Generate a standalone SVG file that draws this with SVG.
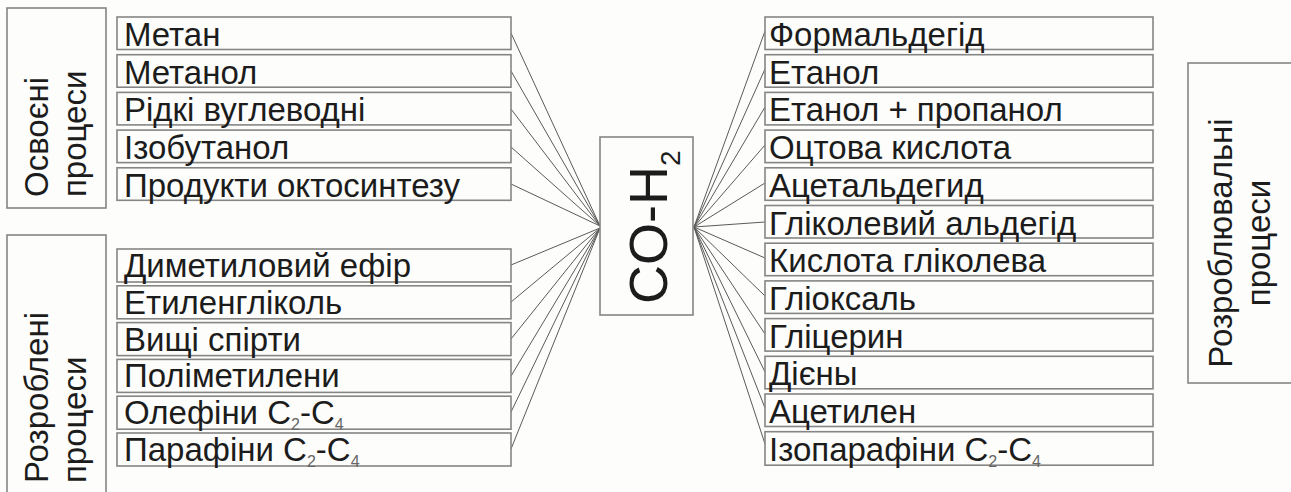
<svg xmlns="http://www.w3.org/2000/svg" width="1291" height="492" viewBox="0 0 1291 492">
<style>
.bx{fill:#fdfdfb;stroke:#858585;stroke-width:1.6}
.t{font-family:"Liberation Sans",Arial,sans-serif;font-size:33px;fill:#1c1c1c}
.sub{font-size:16px;fill:#666}
.ln{stroke:#5a5a5a;stroke-width:1;fill:none}
</style>
<rect width="1291" height="492" fill="#fdfdfb"/>
<g id="connectors">
<path class="ln" d="M511,33 L600,226 M511,71 L600,226 M511,109 L600,226 M511,147 L600,226 M511,184 L600,226"/>
<path class="ln" d="M511,265 L600,228 M511,302 L600,228 M511,339 L600,228 M511,376 L600,228 M511,412 L600,228 M511,449 L600,228"/>
<path class="ln" d="M694,227 L765,31 M694,227 L765,69 M694,227 L765,107 M694,227 L765,145 M694,227 L765,183 M694,227 L765,222 M694,227 L765,258 M694,227 L765,296 M694,227 L765,334 M694,227 L765,372 M694,227 L765,408 M694,227 L765,444"/>
</g>
<g id="label-osvoeni">
<rect class="bx" x="7" y="8" width="99" height="200"/>
<text class="t" transform="translate(48,197) rotate(-90)"><tspan x="0" y="0">Освоєні</tspan><tspan x="0" y="38">процеси</tspan></text>
</g>
<g id="label-rozrobleni">
<rect class="bx" x="7" y="235" width="99" height="270"/>
<text class="t" transform="translate(48,483) rotate(-90)"><tspan x="0" y="0">Розроблені</tspan><tspan x="0" y="38">процеси</tspan></text>
</g>
<g id="label-rozroblyuvalni">
<rect class="bx" x="1188" y="63" width="110" height="320"/>
<text class="t" text-anchor="middle" transform="translate(1232,243) rotate(-90)"><tspan x="0" y="0">Розроблювальні</tspan><tspan x="0" y="38">процеси</tspan></text>
</g>
<g id="center">
<rect class="bx" x="600" y="137" width="93" height="178"/>
<text class="t" style="font-size:54px" transform="translate(667,304) rotate(-90)">CO-H<tspan style="font-size:28px" dy="13">2</tspan></text>
</g>
<g id="n-metan"><rect class="bx" x="117" y="17" width="394" height="32.5"/><text class="t" x="124" y="46">Метан</text></g>
<g id="n-metanol"><rect class="bx" x="117" y="54.7" width="394" height="32.5"/><text class="t" x="124" y="83.7">Метанол</text></g>
<g id="n-ridki"><rect class="bx" x="117" y="92.4" width="394" height="32.5"/><text class="t" x="124" y="121.4">Рідкі вуглеводні</text></g>
<g id="n-izobutanol"><rect class="bx" x="117" y="130.1" width="394" height="32.5"/><text class="t" x="124" y="159.1">Ізобутанол</text></g>
<g id="n-oktosyntez"><rect class="bx" x="117" y="167.8" width="394" height="32.5"/><text class="t" x="124" y="196.8">Продукти октосинтезу</text></g>
<g id="n-dme"><rect class="bx" x="117" y="249" width="394" height="33"/><text class="t" x="124" y="277">Диметиловий ефір</text></g>
<g id="n-etylenglikol"><rect class="bx" x="117" y="285.8" width="394" height="33"/><text class="t" x="124" y="313.8">Етиленгліколь</text></g>
<g id="n-vyshchi"><rect class="bx" x="117" y="322.6" width="394" height="33"/><text class="t" x="124" y="350.6">Вищі спірти</text></g>
<g id="n-polimetyleny"><rect class="bx" x="117" y="359.4" width="394" height="33"/><text class="t" x="124" y="387.4">Поліметилени</text></g>
<g id="n-olefiny"><rect class="bx" x="117" y="396.2" width="394" height="33"/><text class="t" x="124" y="424.2">Олефіни C<tspan class="sub" dy="6">2</tspan><tspan dy="-6">-C</tspan><tspan class="sub" dy="6">4</tspan></text></g>
<g id="n-parafiny"><rect class="bx" x="117" y="433" width="394" height="33"/><text class="t" x="124" y="461">Парафіни C<tspan class="sub" dy="6">2</tspan><tspan dy="-6">-C</tspan><tspan class="sub" dy="6">4</tspan></text></g>
<g id="n-formaldehid"><rect class="bx" x="765" y="17" width="388" height="32.5"/><text class="t" x="769" y="46">Формальдегід</text></g>
<g id="n-etanol"><rect class="bx" x="765" y="54.7" width="388" height="32.5"/><text class="t" x="769" y="83.7">Етанол</text></g>
<g id="n-etanol-propanol"><rect class="bx" x="765" y="92.4" width="388" height="32.5"/><text class="t" x="769" y="121.4">Етанол + пропанол</text></g>
<g id="n-otstova"><rect class="bx" x="765" y="130.1" width="388" height="32.5"/><text class="t" x="769" y="159.1">Оцтова кислота</text></g>
<g id="n-atsetaldehid"><rect class="bx" x="765" y="167.8" width="388" height="32.5"/><text class="t" x="769" y="196.8">Ацетальдегид</text></g>
<g id="n-glikol-aldehid"><rect class="bx" x="765" y="205.5" width="388" height="32.5"/><text class="t" x="769" y="234.5">Гліколевий альдегід</text></g>
<g id="n-kyslota-glikoleva"><rect class="bx" x="765" y="243.2" width="388" height="32.5"/><text class="t" x="769" y="272.2">Кислота гліколева</text></g>
<g id="n-glioksal"><rect class="bx" x="765" y="280.9" width="388" height="32.5"/><text class="t" x="769" y="309.9">Гліоксаль</text></g>
<g id="n-glitseryn"><rect class="bx" x="765" y="318.6" width="388" height="32.5"/><text class="t" x="769" y="347.6">Гліцерин</text></g>
<g id="n-dieny"><rect class="bx" x="765" y="356.3" width="388" height="32.5"/><text class="t" x="769" y="385.3">Дієны</text></g>
<g id="n-atsetylen"><rect class="bx" x="765" y="394" width="388" height="32.5"/><text class="t" x="769" y="423">Ацетилен</text></g>
<g id="n-izoparafiny"><rect class="bx" x="765" y="431.7" width="388" height="33.5"/><text class="t" x="769" y="460.7">Ізопарафіни C<tspan class="sub" dy="6">2</tspan><tspan dy="-6">-C</tspan><tspan class="sub" dy="6">4</tspan></text></g>
</svg>
